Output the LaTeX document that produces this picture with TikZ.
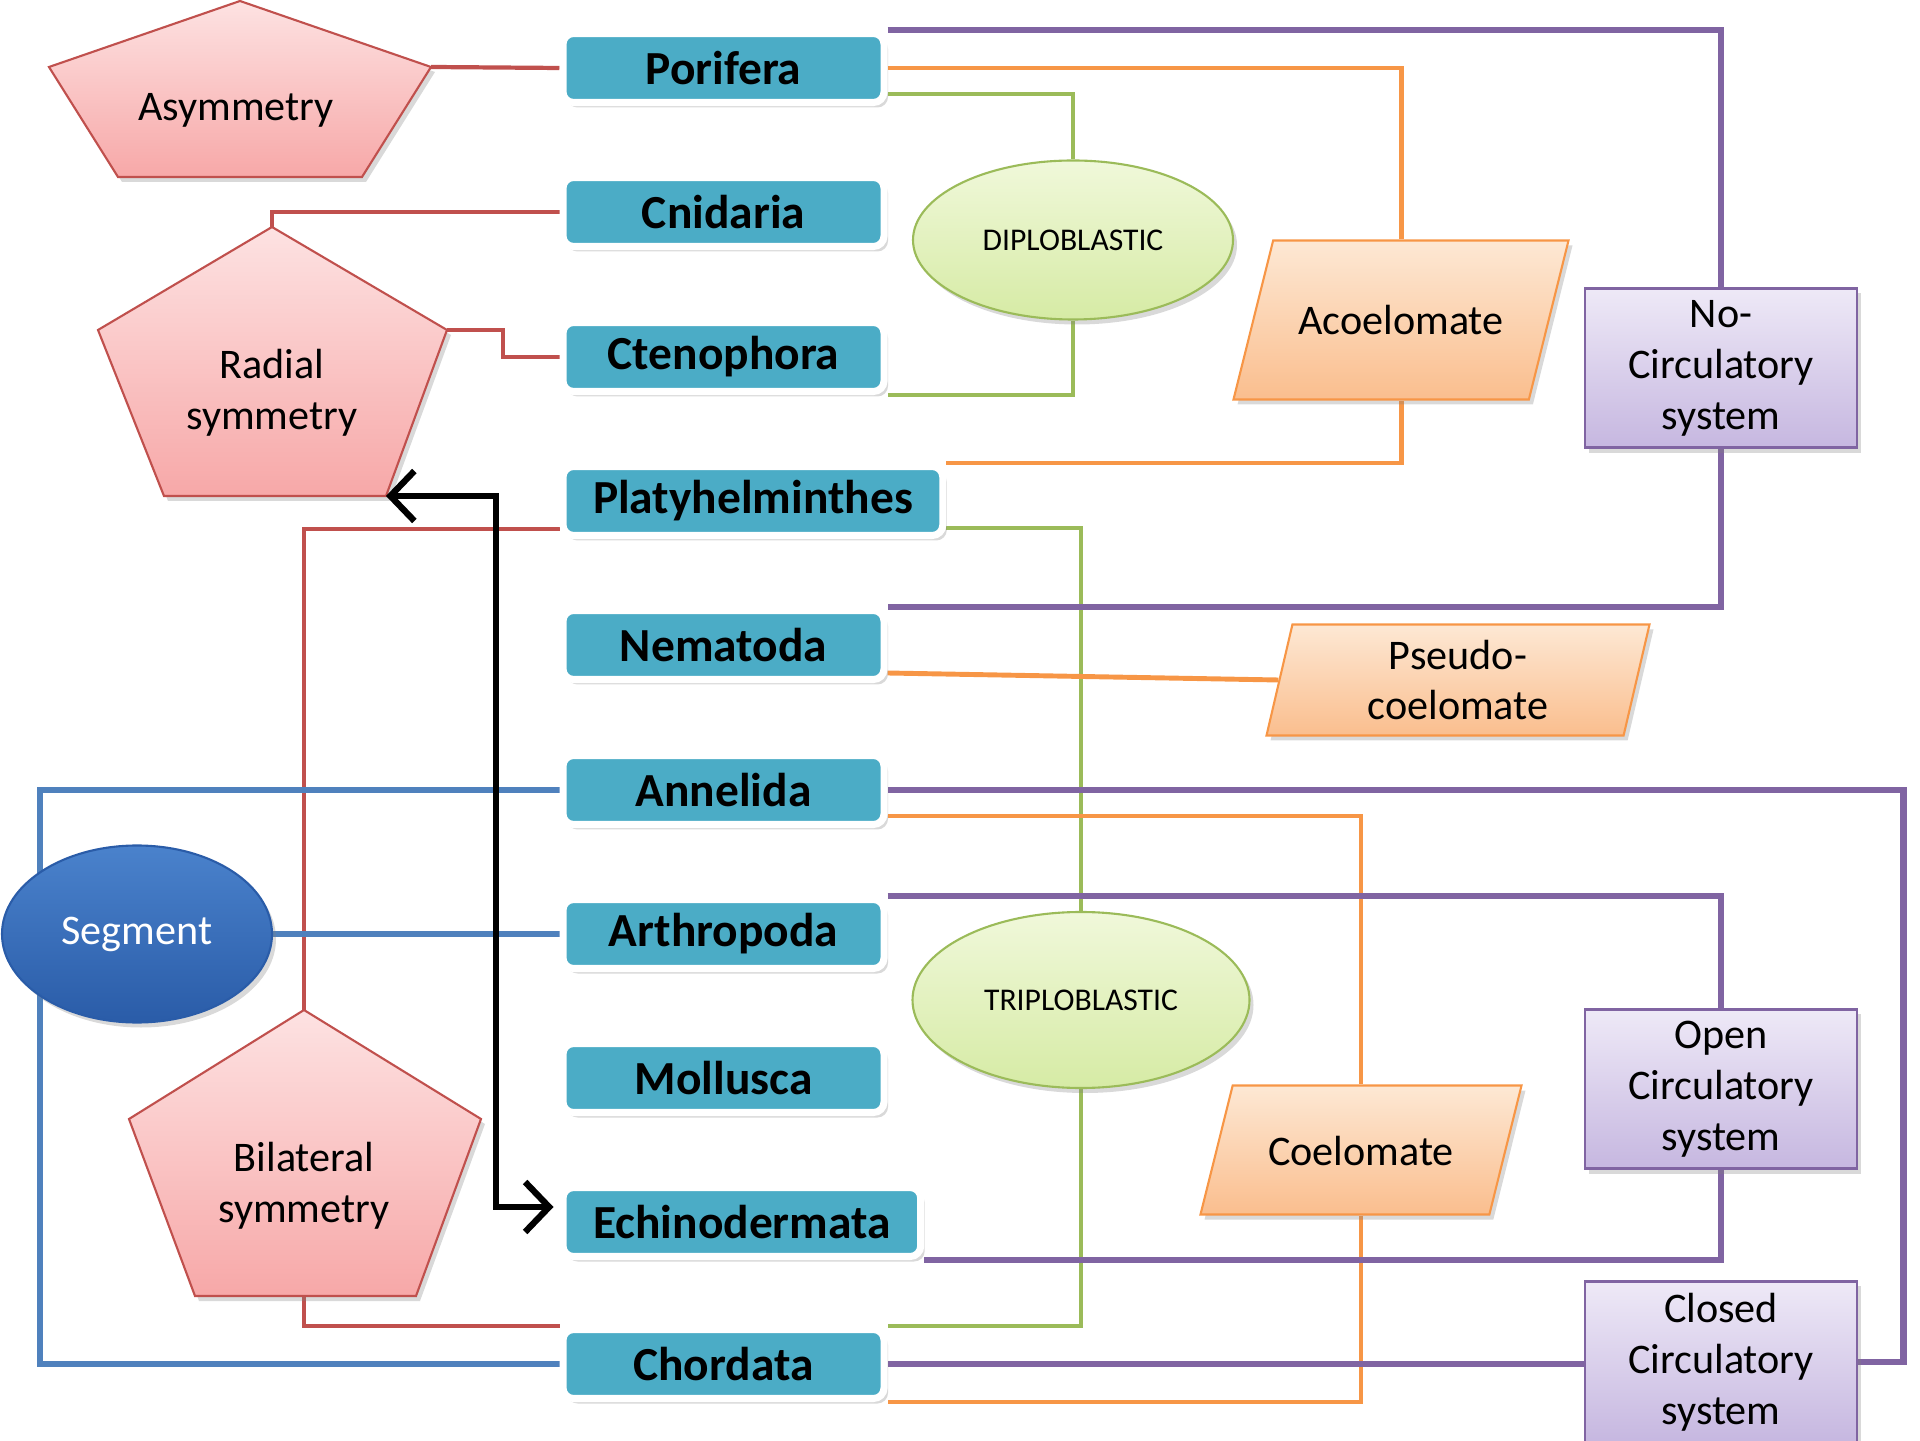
\documentclass[tikz,border=0pt]{standalone}
\usepackage{fontspec}
\setmainfont{Carlito}
\usetikzlibrary{shapes.geometric,shadows,arrows.meta,backgrounds,calc}

\definecolor{filo}{RGB}{75,172,198}
\definecolor{rojo}{RGB}{192,80,77}
\definecolor{verde}{RGB}{155,187,89}
\definecolor{naranja}{RGB}{247,150,70}
\definecolor{morado}{RGB}{128,100,162}
\definecolor{azul}{RGB}{79,129,189}
\definecolor{rosaA}{RGB}{253,226,226}
\definecolor{rosaB}{RGB}{247,168,168}
\definecolor{verdeA}{RGB}{240,248,218}
\definecolor{verdeB}{RGB}{214,235,165}
\definecolor{narA}{RGB}{253,232,212}
\definecolor{narB}{RGB}{250,190,142}
\definecolor{morA}{RGB}{238,233,247}
\definecolor{morB}{RGB}{198,183,224}
\definecolor{azulA}{RGB}{74,130,204}
\definecolor{azulB}{RGB}{42,92,168}

\begin{document}
\begin{tikzpicture}[
    sombra/.style={drop shadow={shadow xshift=0.04cm,shadow yshift=-0.05cm,opacity=0.3}},
    phylum/.style={rectangle, rounded corners=3pt, fill=filo, draw=white, line width=2pt,
        minimum width=3.21cm, minimum height=0.69cm, inner xsep=0.30cm, anchor=west,
        font=\fontsize{13.5}{16}\selectfont\bfseries, sombra},
    simetria/.style={draw=rojo, line width=0.6pt, top color=rosaA, bottom color=rosaB, sombra},
    rotulo/.style={align=center, font=\fontsize{12}{14.5}\selectfont},
    blasto/.style={ellipse, draw=verde, line width=0.6pt, top color=verdeA, bottom color=verdeB,
        font=\fontsize{9}{11}\selectfont, sombra},
    celoma/.style={trapezium, trapezium left angle=76, trapezium right angle=104,
        trapezium stretches body=true, draw=naranja, line width=0.6pt, top color=narA,
        bottom color=narB, rotulo, sombra},
    circ/.style={rectangle, draw=morado, line width=0.8pt, top color=morA, bottom color=morB,
        minimum width=2.72cm, minimum height=1.59cm, rotulo, sombra},
    segm/.style={ellipse, draw=azulB, line width=0.6pt, top color=azulA, bottom color=azulB,
        minimum width=2.70cm, minimum height=1.77cm, text=white, rotulo, sombra},
    lrojo/.style={draw=rojo, line width=1.2pt},
    lverde/.style={draw=verde, line width=1.4pt},
    lnaranja/.style={draw=naranja, line width=1.4pt},
    lmorado/.style={draw=morado, line width=1.8pt},
    lazul/.style={draw=azul, line width=1.6pt},
    flecha/.style={<->, >={Straight Barb[length=2.4mm,width=5mm]}, line width=1.8pt, black}
]
    \useasboundingbox (0,0) rectangle (19.2,14.4);

    % Filos
    \node[phylum] (porifera) at (5.595,13.72) {Porifera};
    \node[phylum] (cnidaria) at (5.595,12.28) {Cnidaria};
    \node[phylum] (cteno) at (5.595,10.83) {Ctenophora};
    \node[phylum] (platy) at (5.595,9.39) {Platyhelminthes};
    \node[phylum] (nema) at (5.595,7.95) {Nematoda};
    \node[phylum] (anne) at (5.595,6.50) {Annelida};
    \node[phylum] (arthro) at (5.595,5.06) {Arthropoda};
    \node[phylum] (mollusca) at (5.595,3.62) {Mollusca};
    \node[phylum] (echino) at (5.595,2.18) {Echinodermata};
    \node[phylum] (chordata) at (5.595,0.76) {Chordata};

    % Capas germinales
    \node[blasto, minimum width=3.20cm, minimum height=1.59cm] (diplo) at (10.73,12.00) {DIPLOBLASTIC};
    \node[blasto, minimum width=3.37cm, minimum height=1.76cm] (triplo) at (10.81,4.40) {TRIPLOBLASTIC};

    % Celoma
    \node[celoma, minimum width=3.35cm, text height=0.30cm, text depth=0cm, inner ysep=0.645cm] (acoel) at (14.01,11.20) {Acoelomate};
    \node[celoma, minimum width=3.83cm, minimum height=1.11cm] (pseudo) at (14.58,7.60) {Pseudo-\\coelomate};
    \node[celoma, minimum width=3.21cm, text height=0.30cm, text depth=0cm, inner ysep=0.495cm] (coel) at (13.61,2.90) {Coelomate};

    % Sistema circulatorio
    \node[circ] (nocirc) at (17.21,10.72) {No-\\Circulatory\\system};
    \node[circ] (open) at (17.21,3.51) {Open\\Circulatory\\system};
    \node[circ] (closed) at (17.21,0.78) {Closed\\Circulatory\\system};

    % Segmentación
    \node[segm] (segment) at (1.37,5.06) {Segment};

    % Simetrías (pentágonos)
    \coordinate (asymT) at (2.40,14.39);
    \coordinate (asymR) at (4.31,13.73);
    \coordinate (asymBR) at (3.62,12.63);
    \coordinate (asymBL) at (1.18,12.63);
    \coordinate (asymL) at (0.49,13.73);
    \path[simetria] (asymT) -- (asymR) -- (asymBR) -- (asymBL) -- (asymL) -- cycle;
    \node[rotulo] (asym) at (2.36,13.30) {Asymmetry};

    \coordinate (radialT) at (2.72,12.13);
    \coordinate (radialR) at (4.47,11.10);
    \coordinate (radialBR) at (3.86,9.44);
    \coordinate (radialBL) at (1.64,9.44);
    \coordinate (radialL) at (0.98,11.10);
    \path[simetria] (radialT) -- (radialR) -- (radialBR) -- (radialBL) -- (radialL) -- cycle;
    \node[rotulo] (radial) at (2.72,10.47) {Radial\\symmetry};

    \coordinate (bilatT) at (3.04,4.30);
    \coordinate (bilatR) at (4.81,3.21);
    \coordinate (bilatBR) at (4.16,1.44);
    \coordinate (bilatB) at (3.04,1.44);
    \coordinate (bilatBL) at (1.95,1.44);
    \coordinate (bilatL) at (1.29,3.21);
    \path[simetria] (bilatT) -- (bilatR) -- (bilatBR) -- (bilatBL) -- (bilatL) -- cycle;
    \node[rotulo] (bilat) at (3.04,2.54) {Bilateral\\symmetry};

    \begin{pgfonlayer}{background}
        % Simetría
        \draw[lrojo] (asymR) -- (porifera.west);
        \draw[lrojo] (cnidaria.west) -| (radialT);
        \draw[lrojo] (radialR) -- ++(0.56,0) |- (cteno.west);
        \draw[lrojo] ($(platy.west)+(0,-0.28)$) -| (bilatT);
        \draw[lrojo] (bilatB) |- (chordata.north west);

        % Segmentación
        \coordinate (segx) at (0.40,5.06);
        \draw[lazul] (anne.west) -| (segx) |- (chordata.west);
        \draw[lazul] (segment) -- (arthro.west);

        % Capas germinales
        \draw[lverde] ($(porifera.east)+(0,-0.26)$) -| (diplo);
        \draw[lverde] (diplo) |- (cteno.south east);
        \draw[lverde] ($(platy.east)+(0,-0.27)$) -| (triplo);
        \draw[lverde] (triplo) |- (chordata.north east);

        % Celoma
        \draw[lnaranja] (porifera.east) -| (acoel);
        \draw[lnaranja] (acoel) |- (platy.north east);
        \draw[lnaranja] ($(nema.east)+(0,-0.28)$) -- (pseudo.west);
        \draw[lnaranja] ($(anne.east)+(0,-0.26)$) -| (coel);
        \draw[lnaranja] (coel) |- (chordata.south east);

        % Sistema circulatorio
        \draw[lmorado] (porifera.north east) -| (nocirc);
        \draw[lmorado] (nocirc) |- (nema.north east);
        \draw[lmorado] (arthro.north east) -| (open);
        \draw[lmorado] (open) |- (echino.south east);
        \draw[lmorado] (anne.east) -| ($(closed.east)+(0.45,0)$) -- (closed.east);
        \draw[lmorado] (chordata.east) -- (chordata.east -| closed.west);
    \end{pgfonlayer}

    % Flecha doble
    \draw[flecha] (radialBR) -- ++(1.10,0) |- ($(echino.west)+(-0.06,0.15)$);
\end{tikzpicture}
\end{document}
